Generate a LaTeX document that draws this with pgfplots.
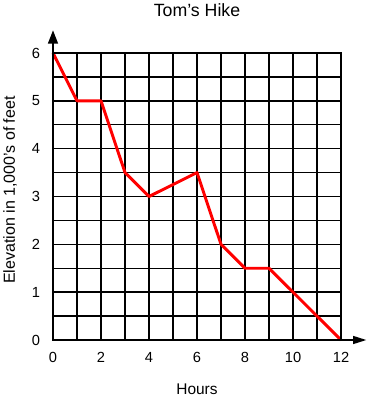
\documentclass[border=0pt]{standalone}
\usepackage{fontspec}
\setmainfont{Liberation Sans}
\usepackage{pgfplots}
\pgfplotsset{compat=1.18}
\usetikzlibrary{arrows.meta}
\begin{document}
\fontsize{10.9}{13}\selectfont
\begin{tikzpicture}[x=0.75pt,y=0.75pt]
\useasboundingbox (-53,-59) rectangle (321,340);
\begin{axis}[
  at={(0,0)}, anchor=south west,
  scale only axis, width=216pt, height=215.25pt,
  xmin=0, xmax=12, ymin=0, ymax=6,
  axis line style={draw=none},
  xtick={0,2,...,12}, minor xtick={1,3,...,11},
  ytick={0,...,6}, minor ytick={0.5,1.5,...,5.5},
  grid=both,
  major grid style={black, line width=1.1pt},
  minor grid style={black, line width=1.1pt},
  major tick length=0pt, minor tick length=0pt,
  /pgf/number format/assume math mode=true,
  tick label style={font=\fontsize{11}{13}\selectfont, inner sep=0pt},
  xticklabel style={yshift=-9pt},
  yticklabel style={xshift=-9.5pt},
  clip=false,
]
\addplot[red, line width=2.2pt, line join=round] coordinates {
(0,6) (1,5) (2,5) (3,3.5) (4,3) (6,3.5) (7,2) (8,1.5) (9,1.5) (10,1) (12,0)
};
\draw[black, line width=1.1pt] (axis cs:0,0) rectangle (axis cs:12,6);
\draw[black, line width=1.1pt, -{Triangle[length=10pt,width=7.5pt]}] (axis cs:0,6) -- ++(0,17pt);
\draw[black, line width=1.1pt, -{Triangle[length=10pt,width=6pt]}] (axis cs:12,0) -- ++(19pt,0);
\end{axis}
\node[font=\fontsize{13.3}{16}\selectfont] at (144,330) {Tom's Hike};
\node[font=\fontsize{11.6}{14}\selectfont] at (144,-49) {Hours};
\node[rotate=90, font=\fontsize{12}{14}\selectfont] at (-43,150) {Elevation in 1,000's of feet};
\end{tikzpicture}
\end{document}
